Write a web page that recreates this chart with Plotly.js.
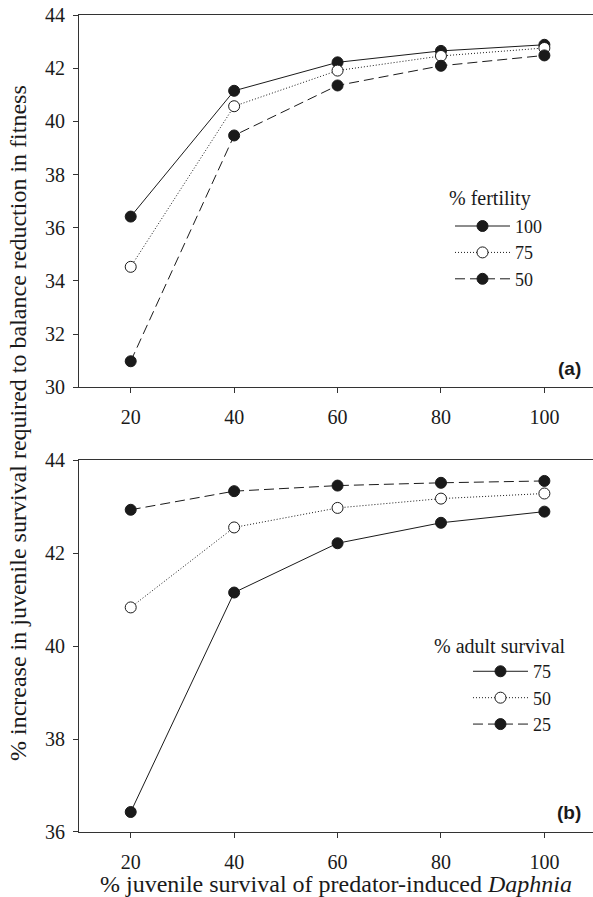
<!DOCTYPE html>
<html>
<head>
<meta charset="utf-8">
<script src="https://cdn.plot.ly/plotly-3.0.1.min.js"></script>
<style>html,body{margin:0;padding:0;background:#fff;}#chart{width:593px;height:897px;}</style>
</head>
<body>
<div id="chart"></div>
<script>
// Data
const juvSurvival = [20, 40, 60, 80, 100];
// Panel (a): % fertility
const fertilityLabels = ['100', '75', '50'];
const fert100 = [36.42, 41.15, 42.22, 42.65, 42.88];
const fert75  = [34.53, 40.57, 41.91, 42.46, 42.76];
const fert50  = [30.98, 39.47, 41.35, 42.09, 42.48];
// Panel (b): % adult survival
const adultLabels = ['75', '50', '25'];
const adult75 = [36.43, 41.15, 42.21, 42.65, 42.89];
const adult50 = [40.83, 42.55, 42.97, 43.17, 43.28];
const adult25 = [42.93, 43.33, 43.45, 43.51, 43.55];
const xTickVals = [20, 40, 60, 80, 100];
const yTicksA = [30, 32, 34, 36, 38, 40, 42, 44];
const yTicksB = [36, 38, 40, 42, 44];

const INK = '#1a1a1a';
const serif = 'Liberation Serif, DejaVu Serif, Times New Roman, Times, serif';
const sans = 'Liberation Sans, Arial, sans-serif';
const dashes = ['solid', '1px,2px', '10px,5px'];
const filled = [true, false, true];

function mk(x, y, name, i, xa, ya, leg) {
  return {
    x: x, y: y, name: name, type: 'scatter', mode: 'lines+markers',
    xaxis: xa, yaxis: ya, legend: leg,
    line: {color: INK, width: 1, dash: dashes[i]},
    marker: {size: 11, symbol: 'circle', color: filled[i] ? INK : '#ffffff', line: {color: INK, width: 1}}
  };
}

const data = [
  mk(juvSurvival, fert100, fertilityLabels[0], 0, 'x', 'y', 'legend'),
  mk(juvSurvival, fert75, fertilityLabels[1], 1, 'x', 'y', 'legend'),
  mk(juvSurvival, fert50, fertilityLabels[2], 2, 'x', 'y', 'legend'),
  mk(juvSurvival, adult75, adultLabels[0], 0, 'x2', 'y2', 'legend2'),
  mk(juvSurvival, adult50, adultLabels[1], 1, 'x2', 'y2', 'legend2'),
  mk(juvSurvival, adult25, adultLabels[2], 2, 'x2', 'y2', 'legend2')
];

const axisCommon = {
  showline: true, linecolor: '#333', linewidth: 1, showgrid: false, zeroline: false,
  ticks: 'outside', ticklen: 5, tickwidth: 1, tickcolor: '#333',
  tickfont: {family: serif, size: 20, color: INK}
};

const xCommon = Object.assign({}, axisCommon, {range: [10, 109.4], tickvals: xTickVals, mirror: true, ticklabelstandoff: 7});

const legCommon = {
  font: {family: serif, size: 18, color: INK}, bgcolor: 'rgba(0,0,0,0)',
  itemwidth: 55, tracegroupgap: 0, xanchor: 'left', yanchor: 'top', traceorder: 'normal'
};

const layout = {
  width: 593, height: 897,
  margin: {l: 79, r: 0, t: 15, b: 65},
  paper_bgcolor: '#fff', plot_bgcolor: '#fff',
  showlegend: true,
  font: {family: serif, color: INK},
  xaxis: Object.assign({}, xCommon, {anchor: 'y', domain: [0, 1]}),
  xaxis2: Object.assign({}, xCommon, {anchor: 'y2', domain: [0, 1],
    title: {text: '% juvenile survival of predator-induced <i>Daphnia</i>', font: {family: serif, size: 24, color: INK}, standoff: 6}}),
  yaxis: Object.assign({}, axisCommon, {anchor: 'x', domain: [0.5443, 1], range: [30, 44], tickvals: yTicksA, ticklabelstandoff: 4}),
  yaxis2: Object.assign({}, axisCommon, {anchor: 'x2', domain: [0, 0.4553], range: [36, 44], tickvals: yTicksB, ticklabelstandoff: 4}),
  legend: Object.assign({}, legCommon, {x: 0.7218, y: 0.764}),
  legend2: Object.assign({}, legCommon, {x: 0.7568, y: 0.219}),
  annotations: [
    {text: '% increase in juvenile survival required to balance reduction in fitness', xref: 'paper', yref: 'paper',
     x: (18 - 79) / 514, y: (832 - 423) / 817, xanchor: 'center', yanchor: 'middle', textangle: -90, showarrow: false,
     font: {family: serif, size: 24, color: INK}},
    {text: '% fertility', xref: 'paper', yref: 'paper', x: (446.7 - 79) / 514, y: (832 - 198) / 817,
     xanchor: 'left', yanchor: 'middle', showarrow: false, font: {family: serif, size: 20, color: INK}},
    {text: '% adult survival', xref: 'paper', yref: 'paper', x: (431.7 - 79) / 514, y: (832 - 645.7) / 817,
     xanchor: 'left', yanchor: 'middle', showarrow: false, font: {family: serif, size: 20, color: INK}},
    {text: '<b>(a)</b>', xref: 'paper', yref: 'paper', x: (583 - 79) / 514, y: (832 - 368) / 817,
     xanchor: 'right', yanchor: 'middle', showarrow: false, font: {family: sans, size: 19, color: INK}},
    {text: '<b>(b)</b>', xref: 'paper', yref: 'paper', x: (583 - 79) / 514, y: (832 - 812) / 817,
     xanchor: 'right', yanchor: 'middle', showarrow: false, font: {family: sans, size: 19, color: INK}}
  ]
};

Plotly.newPlot('chart', data, layout, {displayModeBar: false, staticPlot: true});
</script>
</body>
</html>
